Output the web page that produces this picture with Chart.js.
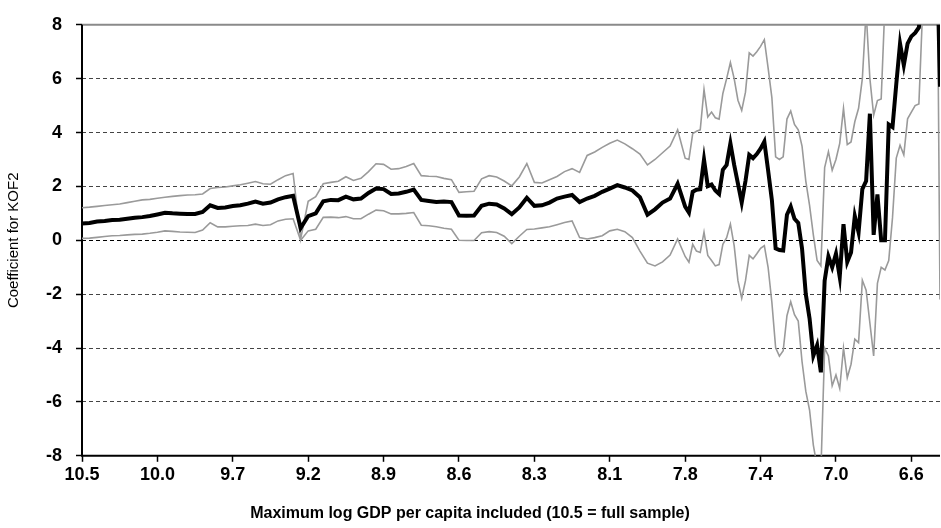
<!DOCTYPE html>
<html>
<head>
<meta charset="utf-8">
<script src="https://cdn.jsdelivr.net/npm/chart.js@4"></script>
<style>
	html, body { margin: 0; padding: 0; background: #fff; }
	#wrap { width: 941px; height: 528px; }
</style>
</head>
<body>
<div id="wrap"><canvas id="kofChart" width="941" height="528"></canvas></div>
<script>
"use strict";

// tick labels shown every 10 observations along the x axis
var xTickLabels = ['10.5', '10.0', '9.7', '9.2', '8.9', '8.6', '8.3', '8.1', '7.8', '7.4', '7.0', '6.6'];
var yTicks = [-8, -6, -4, -2, 0, 2, 4, 6, 8];

// coefficient estimate (thick black)
var coef = [
	0.62, 0.64, 0.70, 0.72, 0.75, 0.76, 0.80, 0.84, 0.86, 0.90,
	0.96, 1.02, 1.00, 0.99, 0.98, 0.98, 1.05, 1.30, 1.20, 1.22,
	1.27, 1.30, 1.36, 1.44, 1.36, 1.40, 1.52, 1.60, 1.65, 0.45,
	0.90, 1.00, 1.45, 1.50, 1.49, 1.62, 1.52, 1.55, 1.76, 1.92,
	1.90, 1.72, 1.74, 1.80, 1.88, 1.50, 1.46, 1.42, 1.44, 1.42,
	0.92, 0.91, 0.92, 1.28, 1.36, 1.33, 1.18, 0.97, 1.22, 1.58,
	1.28, 1.30, 1.40, 1.55, 1.62, 1.68, 1.42, 1.55, 1.65, 1.80,
	1.92, 2.05, 1.96, 1.85, 1.60, 0.95, 1.15, 1.40, 1.55, 2.10,
	1.25,
	1.03, 1.80, 1.88, 1.90, 3.00, 2.01, 2.07, 1.85, 1.72, 2.62,
	2.80, 3.60, 2.80, 2.10, 1.40, 2.20, 3.17, 3.05, 3.20, 3.40,
	3.66, 2.60, 1.50, -0.30, -0.36, -0.38, 0.95, 1.25, 0.80, 0.65,
	-0.30, -2.00, -2.90, -4.29, -3.90, -4.90, -1.50, -0.60, -1.00, -0.50,
	-1.36, 0.60, -0.80, -0.45, 0.90, 0.30, 1.90, 2.20, 4.70, 0.20,
	1.70, 0.00, 0.00, 4.30, 4.20, 5.80, 7.30, 6.50, 7.30, 7.57,
	7.70, 7.90, 9.20, 9.50, 9.60, 9.60, 9.40,
	5.70
];

// upper confidence bound (thin grey)
var upper = [
	1.21, 1.23, 1.26, 1.29, 1.32, 1.35, 1.40, 1.45, 1.50, 1.52,
	1.56, 1.60, 1.63, 1.66, 1.68, 1.69, 1.72, 1.92, 1.96, 1.98,
	2.02, 2.06, 2.12, 2.18, 2.10, 2.08, 2.25, 2.40, 2.48, 0.05,
	1.45, 1.62, 2.10, 2.15, 2.19, 2.36, 2.22, 2.30, 2.55, 2.84,
	2.82, 2.64, 2.66, 2.74, 2.85, 2.40, 2.38, 2.37, 2.30, 2.25,
	1.78, 1.80, 1.82, 2.28, 2.40, 2.35, 2.20, 2.02, 2.35, 2.85,
	2.15, 2.13, 2.25, 2.37, 2.55, 2.66, 2.52, 3.15, 3.28, 3.45,
	3.60, 3.72, 3.58, 3.40, 3.20, 2.80, 3.00, 3.25, 3.50, 4.10,
	3.05,
	3.00, 3.96, 4.05, 4.10, 5.60, 4.58, 4.76, 4.55, 4.50, 5.45,
	6.00, 6.60, 6.00, 5.20, 4.82, 5.50, 6.96, 6.84, 7.00, 7.20,
	7.45, 6.40, 5.30, 3.10, 3.00, 3.10, 4.50, 4.80, 4.30, 4.10,
	3.50, 2.20, 1.30, 0.20, -0.75, -0.95, 2.70, 3.29, 2.60, 3.00,
	3.60, 4.90, 3.55, 3.65, 4.40, 4.90, 6.00, 8.50, 6.00, 4.64,
	5.19, 5.25, 8.80, 9.50, 10.0, 10.0, 10.0, 10.0, 10.0, 10.0,
	10.0, 10.0, 10.0, 10.0, 10.0, 10.0, 10.0,
	10.0
];

// lower confidence bound (thin grey)
var lower = [
	0.07, 0.08, 0.11, 0.14, 0.17, 0.18, 0.20, 0.22, 0.23, 0.26,
	0.30, 0.35, 0.33, 0.31, 0.30, 0.29, 0.38, 0.65, 0.50, 0.50,
	0.52, 0.54, 0.55, 0.60, 0.55, 0.58, 0.72, 0.78, 0.80, 0.00,
	0.35, 0.41, 0.85, 0.86, 0.84, 0.88, 0.80, 0.80, 0.97, 1.12,
	1.10, 0.98, 0.98, 1.00, 1.03, 0.56, 0.54, 0.50, 0.45, 0.41,
	0.00, -0.01, -0.01, 0.28, 0.32, 0.29, 0.15, -0.12, 0.15, 0.40,
	0.42, 0.46, 0.50, 0.58, 0.66, 0.72, 0.10, 0.05, 0.10, 0.17,
	0.35, 0.41, 0.32, 0.10, -0.40, -0.85, -0.95, -0.80, -0.55, 0.05,
	-0.60,
	-0.81, -0.15, -0.40, -0.45, 0.30, -0.56, -0.75, -0.95, -0.90, -0.15,
	0.10, 0.60, -0.20, -1.50, -2.15, -1.50, -0.56, -0.69, -0.50, -0.30,
	-0.20, -1.00, -2.30, -3.99, -4.30, -4.10, -2.80, -2.28, -2.76, -3.00,
	-4.50, -5.60, -6.30, -7.60, -8.40, -8.60, -4.00, -4.29, -5.40, -5.00,
	-5.50, -4.00, -5.10, -4.60, -3.67, -3.80, -1.48, -1.85, -3.07, -4.29,
	-1.60, -1.00, -1.10, -0.75, 0.84, 3.05, 3.53, 3.17, 4.51, 4.76,
	5.00, 5.06, 8.60, 8.80, 8.80, 8.70, 8.50,
	-2.20
];

// observation index: one step per obs up to 80, half steps after (denser sample there)
var obs = [];
for (var i = 0; i <= 80; i++) obs.push(i);
for (var h = 80.5; h <= 113.5; h += 0.5) obs.push(h);
obs.push(113.8);

function toPoints(vals) {
	return vals.map(function (v, k) { return { x: obs[k], y: v }; });
}

var FONT = "'Liberation Sans', Arial, sans-serif";

// plain axis frame: grey top line, black left and bottom axes
var framePlugin = {
	id: 'frame',
	beforeDatasetsDraw: function (chart) {
		var a = chart.chartArea, c = chart.ctx;
		c.save();
		c.lineWidth = 2;
		c.strokeStyle = '#8a8a8a';
		c.beginPath();
		c.moveTo(a.left, a.top);
		c.lineTo(a.right, a.top);
		c.stroke();
		c.strokeStyle = '#000';
		c.beginPath();
		c.moveTo(a.left, a.top);
		c.lineTo(a.left, a.bottom);
		c.lineTo(a.right, a.bottom);
		c.stroke();
		c.restore();
	}
};

var ctx = document.getElementById('kofChart');
var kofChart = new Chart(ctx, {
	type: 'line',
	data: {
		datasets: [{
			label: 'Coefficient',
			data: toPoints(coef),
			borderColor: '#000',
			borderWidth: 4,
			pointRadius: 0,
			tension: 0
		}, {
			label: 'Upper',
			data: toPoints(upper),
			borderColor: '#9a9a9a',
			borderWidth: 1.6,
			pointRadius: 0,
			tension: 0
		}, {
			label: 'Lower',
			data: toPoints(lower),
			borderColor: '#9a9a9a',
			borderWidth: 1.6,
			pointRadius: 0,
			tension: 0
		}]
	},
	options: {
		responsive: false,
		animation: false,
		devicePixelRatio: 1,
		layout: { padding: { top: 20, right: 1, left: 0, bottom: 0 } },
		plugins: {
			legend: { display: false },
			tooltip: { enabled: false },
			title: {
				display: true,
				position: 'bottom',
				text: 'Maximum log GDP per capita included (10.5 = full sample)',
				color: '#000',
				font: { family: FONT, size: 16, weight: 'bold', lineHeight: 1.2 },
				padding: { top: 0, bottom: 5 }
			}
		},
		scales: {
			x: {
				type: 'linear',
				min: 0,
				max: 113.8,
				afterBuildTicks: function (axis) {
					axis.ticks = xTickLabels.map(function (t, k) { return { value: k * 10 }; });
				},
				afterFit: function (axis) { axis.height = 48; },
				ticks: {
					autoSkip: false,
					maxRotation: 0,
					padding: 2,
					color: '#000',
					font: { family: FONT, size: 18, weight: 'bold' },
					callback: function (v) { return xTickLabels[Math.round(v / 10)]; }
				},
				grid: {
					drawOnChartArea: false,
					drawTicks: true,
					tickLength: 6,
					tickColor: '#000',
					tickWidth: 1.5
				},
				border: { display: false }
			},
			y: {
				min: -8,
				max: 8,
				afterBuildTicks: function (axis) {
					axis.ticks = yTicks.map(function (v) { return { value: v }; });
				},
				afterFit: function (axis) { axis.width = 82; },
				ticks: {
					padding: 14,
					color: '#000',
					font: { family: FONT, size: 18, weight: 'bold' }
				},
				title: {
					display: true,
					text: 'Coefficient for KOF2',
					color: '#000',
					font: { family: FONT, size: 15 },
					padding: { top: 5, bottom: 0 }
				},
				grid: {
					color: function (c) {
						var v = c.tick ? c.tick.value : 0;
						if (v === 8 || v === -8) return 'rgba(0,0,0,0)';
						return v === 0 ? '#000' : '#444';
					},
					lineWidth: 1,
					tickLength: 6,
					tickColor: '#000',
					tickWidth: 1.5,
					tickBorderDash: []
				},
				border: { display: false, dash: [4, 3] }
			}
		}
	},
	plugins: [framePlugin]
});
</script>
</body>
</html>
